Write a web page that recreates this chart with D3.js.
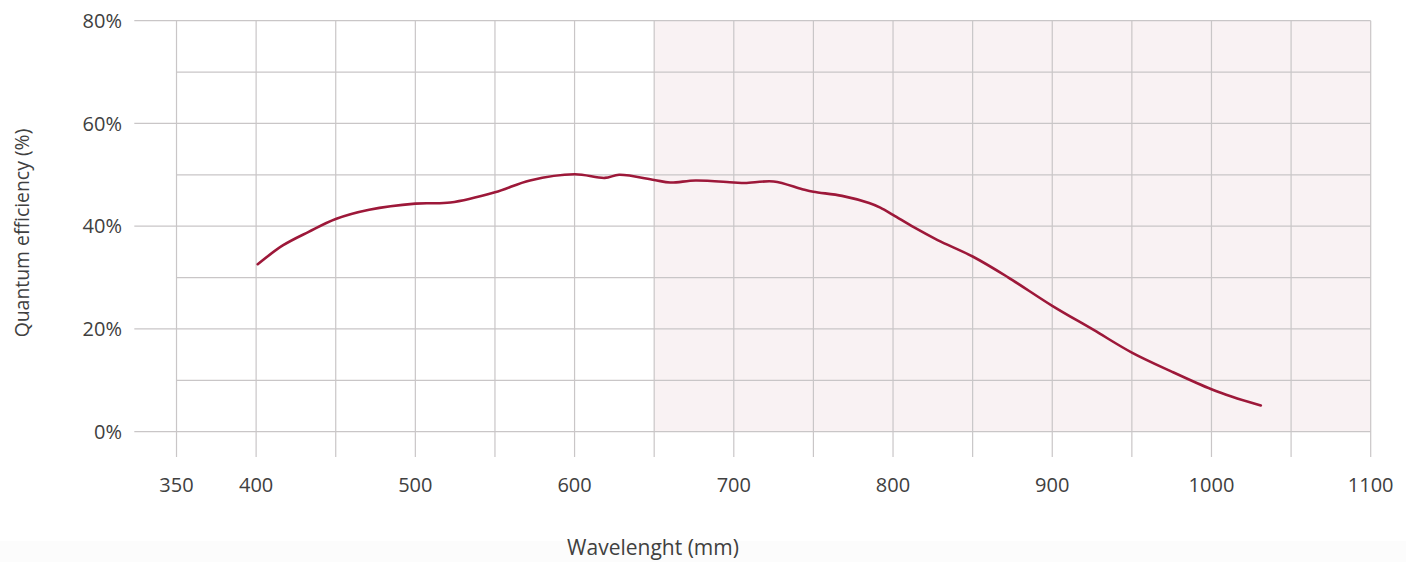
<!DOCTYPE html>
<html>
<head>
<meta charset="utf-8">
<script src="https://cdn.jsdelivr.net/npm/d3@7"></script>
<style>
	body { margin: 0; background: #fff; }
	svg text { font-family: 'Open Sans', sans-serif; fill: #404040; }
</style>
</head>
<body>
<svg id="chart" width="1406" height="562"></svg>
<script>
// wavelength (nm) and quantum efficiency (%)
let wavelength = [401, 417, 433, 450, 471, 500, 522, 550, 572, 600, 619, 628, 650, 660, 676, 700, 707, 725, 743, 750, 768, 785, 792, 800, 813, 828, 850, 872, 900, 926, 950, 975, 1000, 1013, 1031]
let efficiency = [32.6, 36.3, 38.9, 41.4, 43.2, 44.4, 44.6, 46.6, 48.9, 50.1, 49.4, 50.0, 49.0, 48.5, 48.9, 48.5, 48.4, 48.7, 47.2, 46.7, 45.9, 44.5, 43.6, 42.2, 39.8, 37.3, 34.1, 30.1, 24.5, 19.8, 15.4, 11.7, 8.25, 6.8, 5.1]

let xGrid = [350, 400, 450, 500, 550, 600, 650, 700, 750, 800, 850, 900, 950, 1000, 1050, 1100]
let xLabels = [350, 400, 500, 600, 700, 800, 900, 1000, 1100]
let yGrid = [0, 10, 20, 30, 40, 50, 60, 70, 80]
let yLabels = [0, 20, 40, 60, 80]
let shadeRange = [650, 1100]

const svg = d3.select('#chart')

const x = d3.scaleLinear().domain([325, 1100]).range([136.7, 1370.7])
const y = d3.scaleLinear().domain([0, 80]).range([431.7, 20.7])

// faint band at the bottom
svg.append('rect')
	.attr('x', 0).attr('y', 541)
	.attr('width', 1406).attr('height', 21)
	.attr('fill', '#fcfcfc')

// shaded region
svg.append('rect')
	.attr('x', x(shadeRange[0]))
	.attr('y', y(80))
	.attr('width', x(shadeRange[1]) - x(shadeRange[0]))
	.attr('height', y(0) - y(80))
	.attr('fill', '#f9f2f3')

const grid = svg.append('g').attr('stroke', '#c9c6c7').attr('stroke-width', 1.2)

grid.selectAll('line.h')
	.data(yGrid)
	.enter()
	.append('line')
	.attr('class', 'h')
	.attr('x1', d => d % 20 == 0 ? x(323.5) : x(350))
	.attr('x2', x(1100))
	.attr('y1', d => y(d))
	.attr('y2', d => y(d))

grid.selectAll('line.v')
	.data(xGrid)
	.enter()
	.append('line')
	.attr('class', 'v')
	.attr('x1', d => x(d))
	.attr('x2', d => x(d))
	.attr('y1', y(80))
	.attr('y2', 457)

// x tick labels
svg.append('g')
	.selectAll('text')
	.data(xLabels)
	.enter()
	.append('text')
	.attr('x', d => x(d))
	.attr('y', 492)
	.attr('text-anchor', 'middle')
	.attr('font-size', 20)
	.text(d => d)

// y tick labels
svg.append('g')
	.selectAll('text')
	.data(yLabels)
	.enter()
	.append('text')
	.attr('x', 122)
	.attr('y', d => y(d))
	.attr('dy', '0.36em')
	.attr('text-anchor', 'end')
	.attr('font-size', 20)
	.text(d => d + '%')

// axis titles
svg.append('text')
	.attr('x', 653)
	.attr('y', 555)
	.attr('text-anchor', 'middle')
	.attr('font-size', 21)
	.text('Wavelenght (mm)')

svg.append('text')
	.attr('transform', 'translate(29,233) rotate(-90)')
	.attr('text-anchor', 'middle')
	.attr('font-size', 19.4)
	.text('Quantum efficiency (%)')

// curve
const line = d3.line()
	.x((d, i) => x(wavelength[i]))
	.y(d => y(d))
	.curve(d3.curveCatmullRom.alpha(0.5))

svg.append('path')
	.datum(efficiency)
	.attr('d', line)
	.attr('fill', 'none')
	.attr('stroke', '#9d1839')
	.attr('stroke-width', 2.6)
	.attr('stroke-linecap', 'round')
</script>
</body>
</html>
